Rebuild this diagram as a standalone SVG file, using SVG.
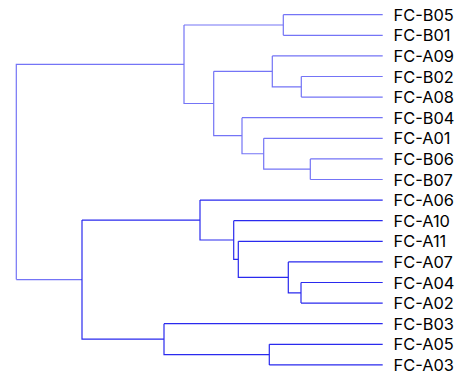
<svg xmlns="http://www.w3.org/2000/svg" width="462" height="376" viewBox="0 0 462 376">
<style>
.a{fill:none;stroke:#7474f6;stroke-width:1.2}
.b{fill:none;stroke:#2a2aee;stroke-width:1.2}
text{font-family:Inter,"Liberation Sans",Arial,sans-serif;font-size:16.4px;fill:#000;dominant-baseline:central}
</style>
<rect width="462" height="376" fill="#fff"/>
<g id="links">
<path class="a" d="M16.3,279.6V64.3H184"/>
<path class="a" d="M184,25V103.5H213.7"/>
<path class="a" d="M184,25H283.3"/>
<path class="a" d="M283.3,14.7V35.3M283.3,14.7H382.7M283.3,35.3H382.7"/>
<path class="a" d="M213.7,71.35V135.7H242M213.7,71.35H272.3"/>
<path class="a" d="M272.3,55.9V86.8H301.3M272.3,55.9H382.7"/>
<path class="a" d="M301.3,76.5V97.1M301.3,76.5H382.7M301.3,97.1H382.7"/>
<path class="a" d="M242,117.7V153.75H263.7M242,117.7H382.7"/>
<path class="a" d="M263.7,138.3V169.2H310.3M263.7,138.3H382.7"/>
<path class="a" d="M310.3,158.9V179.5M310.3,158.9H382.7M310.3,179.5H382.7"/>
<path class="a" d="M16.3,279.6H82"/>
<path class="b" d="M82,220.05V339.15H164M82,220.05H200"/>
<path class="b" d="M200,200.1V240H233.7M200,200.1H382.7"/>
<path class="b" d="M233.7,220.7V259.3H238.3M233.7,220.7H382.7"/>
<path class="b" d="M238.3,241.3V277.35H288.3M238.3,241.3H382.7"/>
<path class="b" d="M288.3,261.9V292.8H301M288.3,261.9H382.7"/>
<path class="b" d="M301,282.5V303.1M301,282.5H382.7M301,303.1H382.7"/>
<path class="b" d="M164,323.7V354.6H269.3M164,323.7H382.7"/>
<path class="b" d="M269.3,344.3V364.9M269.3,344.3H382.7M269.3,364.9H382.7"/>
</g>
<g id="leaf-FC-B05"><text x="393.5" y="14.7">FC-B05</text></g>
<g id="leaf-FC-B01"><text x="393.5" y="35.3">FC-B01</text></g>
<g id="leaf-FC-A09"><text x="393.5" y="55.9">FC-A09</text></g>
<g id="leaf-FC-B02"><text x="393.5" y="76.5">FC-B02</text></g>
<g id="leaf-FC-A08"><text x="393.5" y="97.1">FC-A08</text></g>
<g id="leaf-FC-B04"><text x="393.5" y="117.7">FC-B04</text></g>
<g id="leaf-FC-A01"><text x="393.5" y="138.3">FC-A01</text></g>
<g id="leaf-FC-B06"><text x="393.5" y="158.9">FC-B06</text></g>
<g id="leaf-FC-B07"><text x="393.5" y="179.5">FC-B07</text></g>
<g id="leaf-FC-A06"><text x="393.5" y="200.1">FC-A06</text></g>
<g id="leaf-FC-A10"><text x="393.5" y="220.7">FC-A10</text></g>
<g id="leaf-FC-A11"><text x="393.5" y="241.3">FC-A11</text></g>
<g id="leaf-FC-A07"><text x="393.5" y="261.9">FC-A07</text></g>
<g id="leaf-FC-A04"><text x="393.5" y="282.5">FC-A04</text></g>
<g id="leaf-FC-A02"><text x="393.5" y="303.1">FC-A02</text></g>
<g id="leaf-FC-B03"><text x="393.5" y="323.7">FC-B03</text></g>
<g id="leaf-FC-A05"><text x="393.5" y="344.3">FC-A05</text></g>
<g id="leaf-FC-A03"><text x="393.5" y="364.9">FC-A03</text></g>
</svg>
